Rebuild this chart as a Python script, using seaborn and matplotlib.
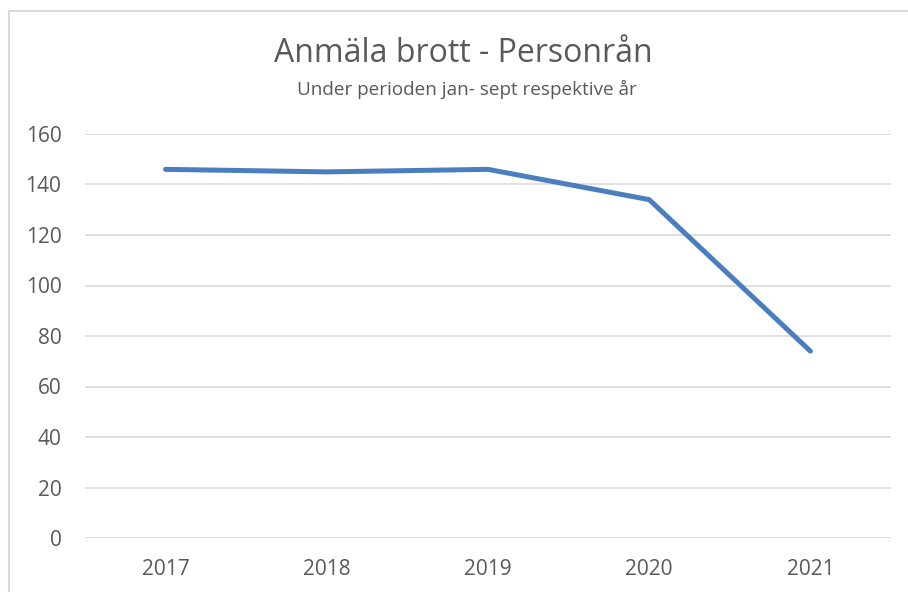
import matplotlib
matplotlib.use("Agg")
import matplotlib.pyplot as plt
import matplotlib.patches as mpatches
import seaborn as sns
import pandas as pd

# ---------------------------
# Data
# ---------------------------
years = ["2017", "2018", "2019", "2020", "2021"]
cases = [146, 145, 146, 134, 74]
y_ticks = [0, 20, 40, 60, 80, 100, 120, 140, 160]

TITLE = "Anmäla brott - Personrån"
SUBTITLE = "Under perioden jan- sept respektive år"

TEXT_COLOR = "#595959"
GRID_COLOR = "#d9d9d9"
LINE_COLOR = "#4a7ebf"

sns.set_theme(style="white")
plt.rcParams["font.family"] = ["Open Sans", "DejaVu Sans"]

df = pd.DataFrame({"year": years, "cases": cases})

W, H = 908, 592
fig = plt.figure(figsize=(W / 100, H / 100), dpi=100)
ax = fig.add_axes([85 / W, 1 - 538 / H, (891 - 85) / W, (538 - 134) / H])

sns.lineplot(data=df, x="year", y="cases", ax=ax, color=LINE_COLOR,
             linewidth=3.6, solid_capstyle="round", solid_joinstyle="round",
             zorder=3)

ax.set_xlim(-0.5, len(years) - 0.5)
ax.set_ylim(0, 160)
ax.set_yticks(y_ticks)
ax.set_xlabel("")
ax.set_ylabel("")
ax.grid(axis="y", color=GRID_COLOR, linewidth=1.2)
ax.set_axisbelow(True)
for side in ax.spines.values():
    side.set_visible(False)
ax.tick_params(axis="y", length=0, pad=17, labelsize=15, labelcolor=TEXT_COLOR)
ax.tick_params(axis="x", length=0, pad=15, labelsize=15, labelcolor=TEXT_COLOR)

fig.text(463 / W, 1 - 53 / H, TITLE, ha="center", va="center",
         fontsize=23, color=TEXT_COLOR)
fig.text(467 / W, 1 - 89 / H, SUBTITLE, ha="center", va="center",
         fontsize=13.6, color=TEXT_COLOR)

# light chart-area border like the spreadsheet export
border = mpatches.Rectangle((8.5 / W, -0.1), 1.2, 1 - 10.5 / H + 0.1,
                            transform=fig.transFigure, fill=False,
                            edgecolor=GRID_COLOR, linewidth=1.5)
fig.patches.append(border)

fig.savefig("out.png", dpi=100)
